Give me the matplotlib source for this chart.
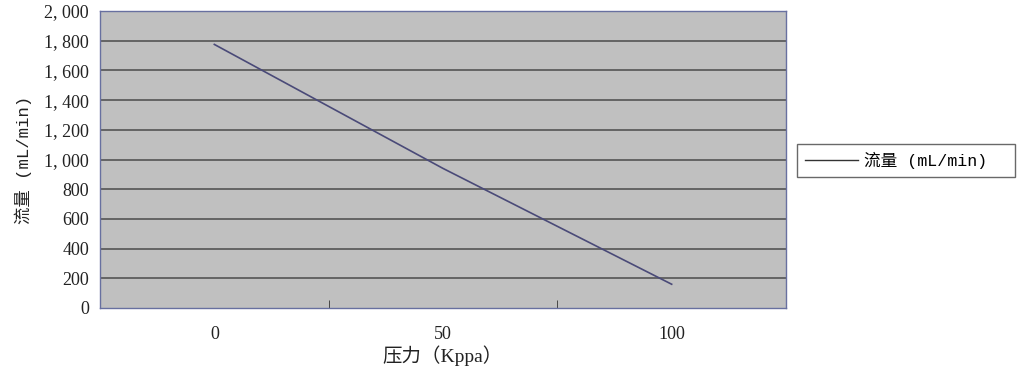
import matplotlib.pyplot as plt
import numpy as np

# data
pressure = ['0', '50', '100']
flow = [1775, 940, 160]
yticks = [0, 200, 400, 600, 800, 1000, 1200, 1400, 1600, 1800, 2000]

mono = ['Liberation Mono', 'Noto Sans CJK SC']
serif = ['Liberation Serif', 'Noto Sans CJK SC']

fig = plt.figure(figsize=(10.24, 3.76), dpi=100)
ax = fig.add_axes([100/1024, 1 - 308/376, 686/1024, 297/376])
ax.set_facecolor('#c0c0c0')

x = np.arange(len(pressure))
line, = ax.plot(x, flow, color='#4a4a78', lw=1.2, label='流量 (mL/min)  ')

ax.set_xlim(-0.5, len(pressure) - 0.5)
ax.set_ylim(0, 2000)
ax.set_yticks(yticks)
ax.set_yticklabels(['{:,}'.format(v).replace(',', ', ') for v in yticks],
                   family=serif, fontsize=13, color='#222222')
ax.set_xticks(x)
ax.set_xticklabels(pressure, family=serif, fontsize=13, color='#222222')
ax.tick_params(axis='x', length=0, pad=13)
ax.tick_params(axis='y', length=0, pad=8)
# category boundary ticks pointing inward
ax.set_xticks([0.5, 1.5], minor=True)
ax.tick_params(axis='x', which='minor', direction='in', length=6, color='#333333')

for v in yticks[1:-1]:
    ax.axhline(v, color='#555555', lw=1.2, zorder=0.5)

for s in ax.spines.values():
    s.set_color('#6870a0')
    s.set_linewidth(1)

ax.set_xlabel('压力（Kppa）', family=serif, fontsize=14, color='#222222', labelpad=2)
ax.set_ylabel('流量 (mL/min)', family=mono, fontsize=12.5, color='#222222', labelpad=9)

leg = fig.legend(handles=[line], loc='center left',
                 bbox_to_anchor=(797/1024, 1 - 160.5/376),
                 frameon=True, fancybox=False, prop={'family': mono, 'size': 12},
                 handlelength=3.2, handletextpad=0.4, borderpad=0.45,
                 borderaxespad=0)
leg.get_frame().set_edgecolor('#444444')
leg.get_frame().set_linewidth(1)
leg.get_lines()[0].set_color('#333333')
leg.get_lines()[0].set_linewidth(1)

fig.savefig('out.png', dpi=100)
